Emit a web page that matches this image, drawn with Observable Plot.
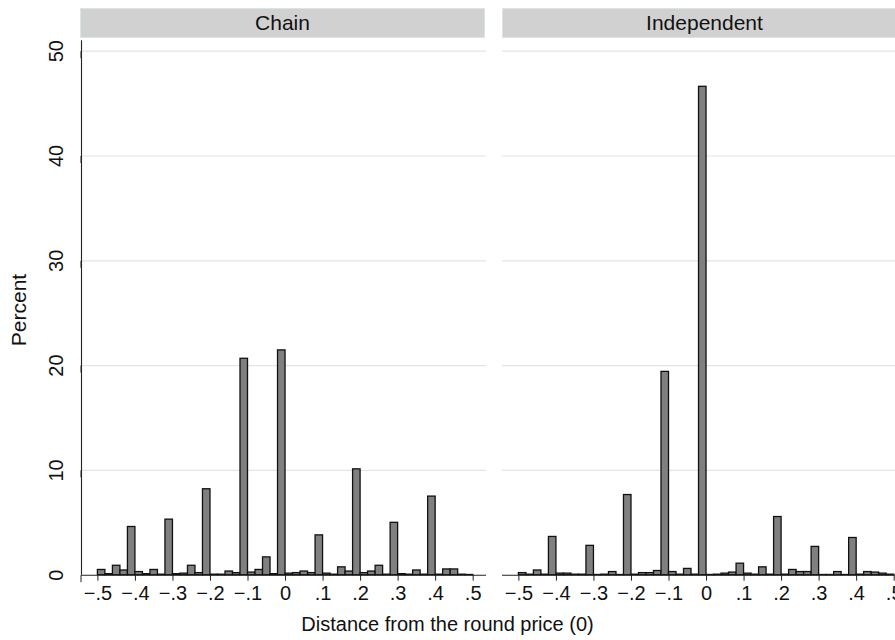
<!DOCTYPE html>
<html>
<head>
<meta charset="utf-8">
<script src="https://cdn.jsdelivr.net/npm/d3@7"></script>
<script src="https://cdn.jsdelivr.net/npm/@observablehq/plot@0.6"></script>
<style>
  html, body { margin: 0; padding: 0; overflow: hidden; background: #fff; }
  #wrap { position: relative; width: 895px; height: 640px; overflow: hidden;
          font-family: "Liberation Sans", Arial, Helvetica, sans-serif; color: #111; }
  #chart { position: absolute; left: 0; top: 0; width: 907px; }
  #chart svg { max-width: none !important; }
  .strip { position: absolute; top: 8px; height: 30px; box-sizing: border-box;
           background: #d1d1d1; border: 1px solid #d8e6ea; text-align: center;
           font-size: 21px; line-height: 27px; color: #111; }
  #xtitle { position: absolute; left: 0; width: 895px; top: 614px; text-align: center;
            font-size: 20px; line-height: 20px; }
  #ytitle { position: absolute; left: 18px; top: 310px; font-size: 21px; line-height: 21px;
            transform: translate(-50%, -50%) rotate(-90deg); white-space: nowrap; }
</style>
</head>
<body>
<div id="wrap">
  <div id="chart"></div>
  <div class="strip" id="s0" style="left:80px; width:405px;"></div>
  <div class="strip" id="s1" style="left:502px; width:405px;"></div>
  <div id="xtitle"></div>
  <div id="ytitle"></div>
</div>
<script>
// ---- data ----
const panels = ["Chain", "Independent"];
const binWidth = 0.02;
const binStart = [
  -0.50, -0.48, -0.46, -0.44, -0.42, -0.40, -0.38, -0.36, -0.34, -0.32,
  -0.30, -0.28, -0.26, -0.24, -0.22, -0.20, -0.18, -0.16, -0.14, -0.12,
  -0.10, -0.08, -0.06, -0.04, -0.02,  0.00,  0.02,  0.04,  0.06,  0.08,
   0.10,  0.12,  0.14,  0.16,  0.18,  0.20,  0.22,  0.24,  0.26,  0.28,
   0.30,  0.32,  0.34,  0.36,  0.38,  0.40,  0.42,  0.44,  0.46,  0.48
];
const chainPct = [
  0.5, 0.1, 0.9, 0.45, 4.6, 0.3, 0.1, 0.5, 0.05, 5.3,
  0.1, 0.15, 0.9, 0.2, 8.2, 0.05, 0.05, 0.35, 0.2, 20.65,
  0.25, 0.5, 1.7, 0.1, 21.45, 0.15, 0.2, 0.35, 0.2, 3.8,
  0.15, 0.05, 0.75, 0.35, 10.1, 0.2, 0.35, 0.9, 0.05, 5.0,
  0.1, 0.05, 0.45, 0.05, 7.5, 0.05, 0.55, 0.55, 0.05, 0.02
];
const independentPct = [
  0.2, 0.05, 0.45, 0.05, 3.65, 0.15, 0.15, 0.05, 0.05, 2.8,
  0.02, 0.05, 0.3, 0.02, 7.65, 0.05, 0.2, 0.2, 0.4, 19.4,
  0.3, 0.05, 0.6, 0.05, 46.6, 0.02, 0.05, 0.15, 0.25, 1.1,
  0.15, 0.05, 0.75, 0.05, 5.55, 0.05, 0.5, 0.3, 0.3, 2.7,
  0.02, 0.02, 0.3, 0.02, 3.55, 0.05, 0.3, 0.25, 0.15, 0.05
];
const xTicks = [-0.5, -0.4, -0.3, -0.2, -0.1, 0, 0.1, 0.2, 0.3, 0.4, 0.5];
const xTickLabels = ["\u2212.5", "\u2212.4", "\u2212.3", "\u2212.2", "\u2212.1", "0", ".1", ".2", ".3", ".4", ".5"];
const yTicks = [0, 10, 20, 30, 40, 50];
const yTickLabels = ["0", "10", "20", "30", "40", "50"];
const xTitle = "Distance from the round price (0)";
const yTitle = "Percent";

// ---- table ----
const rows = [];
binStart.forEach((b, i) => {
  rows.push({panel: panels[0], x1: b, x2: b + binWidth, pct: chainPct[i]});
  rows.push({panel: panels[1], x1: b, x2: b + binWidth, pct: independentPct[i]});
});

const xDomain = [-0.5437, 0.5355];
const yDomain = [0, 51];

const chart = Plot.plot({
  width: 907,
  height: 640,
  marginLeft: 80,
  marginRight: 0,
  marginTop: 40.2,
  marginBottom: 65.3,
  style: {fontFamily: '"Liberation Sans", Arial, Helvetica, sans-serif', color: "#111", background: "transparent", overflow: "visible", maxWidth: "none"},
  x: {domain: xDomain},
  y: {domain: yDomain},
  fx: {domain: panels, paddingInner: 0.0389, paddingOuter: 0, axis: null, label: null},
  marks: [
    Plot.gridY(yTicks.slice(1), {stroke: "#e4e4e4", strokeOpacity: 1, strokeWidth: 1.2}),
    Plot.rectY(rows, {fx: "panel", x1: "x1", x2: "x2", y: "pct", fill: "#808080", stroke: "#111", strokeWidth: 1.3}),
    Plot.ruleY([0], {stroke: "#222", strokeWidth: 1.1}),
    Plot.ruleX([panels[0]], {fx: d => d, x: xDomain[0], y1: yDomain[0], y2: yDomain[1], stroke: "#222", strokeWidth: 1.1}),
    Plot.axisY({ticks: yTicks, tickFormat: d => yTickLabels[yTicks.indexOf(d)], tickSize: 7, tickPadding: 18,
                rotate: -90, textAnchor: "middle", fontSize: 20, label: null, stroke: "#222", fill: "#111"}),
    Plot.axisX({ticks: xTicks, tickFormat: d => xTickLabels[xTicks.indexOf(d)], tickSize: 6, tickPadding: 5,
                fontSize: 20, label: null, stroke: "#222", fill: "#111"})
  ]
});
chart.style.maxWidth = "none";
chart.setAttribute("width", 907);
document.getElementById("chart").appendChild(chart);
document.getElementById("s0").textContent = panels[0];
document.getElementById("s1").textContent = panels[1];
document.getElementById("xtitle").textContent = xTitle;
document.getElementById("ytitle").textContent = yTitle;
</script>
</body>
</html>
